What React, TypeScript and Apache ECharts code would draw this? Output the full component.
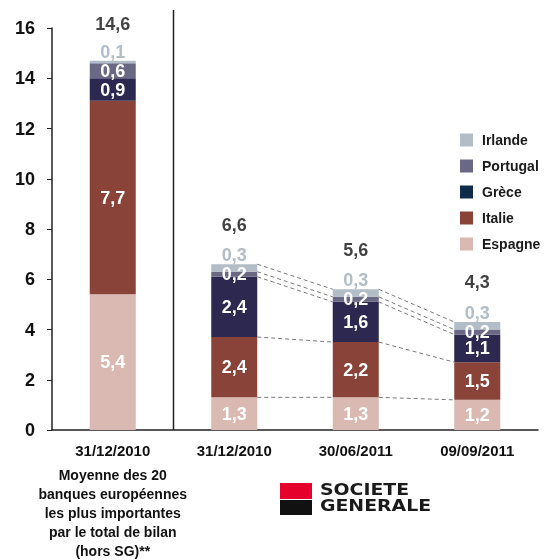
import React, { useEffect, useRef } from "react";
import * as echarts from "echarts";

const categories = ["31/12/2010", "31/12/2010", "30/06/2011", "09/09/2011"];
const espagne = [5.4, 1.3, 1.3, 1.2];
const italie = [7.7, 2.4, 2.2, 1.5];
const grece = [0.9, 2.4, 1.6, 1.1];
const portugal = [0.6, 0.2, 0.2, 0.2];
const irlande = [0.1, 0.3, 0.3, 0.3];
const totals = [14.6, 6.6, 5.6, 4.3];
const legendOrder = ["Irlande", "Portugal", "Grèce", "Italie", "Espagne"];
const noteLines = [
  "Moyenne des 20",
  "banques européennes",
  "les plus importantes",
  "par le total de bilan",
  "(hors SG)**",
];

const FONT = "'Liberation Sans', Arial, sans-serif";
const fmt = (v: number) => String(v).replace(".", ",");

export default function App() {
  const ref = useRef<HTMLDivElement>(null);
  useEffect(() => {
    const chart = echarts.init(ref.current!, null, { renderer: "svg" });
    const stacks = [espagne, italie, grece, portugal, irlande];
    const connectors: number[][] = [];
    for (let i = 1; i < categories.length - 1; i++) {
      let c1 = 0;
      let c2 = 0;
      for (const s of stacks) {
        c1 += s[i];
        c2 += s[i + 1];
        connectors.push([i, +c1.toFixed(2), i + 1, +c2.toFixed(2)]);
      }
    }
    const BW = 46;
    const inLabel = {
      show: true,
      position: "inside",
      color: "#fff",
      fontWeight: "bold",
      fontSize: 18,
      fontFamily: FONT,
      formatter: (p: any) => fmt(p.value),
    };
    const mkBar = (name: string, data: number[], color: string, label: any) => ({
      name,
      type: "bar",
      stack: "t",
      barWidth: BW,
      data,
      itemStyle: { color },
      label,
    });
    chart.setOption({
      animation: false,
      textStyle: { fontFamily: FONT },
      grid: { left: 52, right: 8, top: 28, bottom: 130 },
      legend: {
        orient: "vertical",
        left: 455,
        top: 128,
        itemWidth: 13,
        itemHeight: 13,
        itemGap: 12,
        icon: "rect",
        textStyle: { fontSize: 14, fontWeight: "bold", color: "#1a1a1a", fontFamily: FONT, padding: [0, 0, 0, 4] },
        data: legendOrder.map((n) => (n === "Grèce" ? { name: n, itemStyle: { color: "#0f2c4b" } } : { name: n })),
      },
      xAxis: {
        type: "category",
        data: categories,
        axisLine: { lineStyle: { color: "#222", width: 1.5 } },
        axisTick: { show: false },
        axisLabel: {
          interval: 0,
          margin: 5,
          formatter: (v: string, i: number) =>
            i === 0 ? `{d|${v}}\n` + noteLines.map((l) => `{n|${l}}`).join("\n") : `{d|${v}}`,
          rich: {
            d: { fontSize: 15, fontWeight: "bold", color: "#111", lineHeight: 30, fontFamily: FONT },
            n: { fontSize: 14, fontWeight: "bold", color: "#111", lineHeight: 19, fontFamily: FONT },
          },
        },
      },
      yAxis: {
        type: "value",
        min: 0,
        max: 16,
        interval: 2,
        splitLine: { show: false },
        axisLine: { show: true, lineStyle: { color: "#222", width: 1.5 } },
        axisTick: { show: true, length: 5, lineStyle: { color: "#222" } },
        axisLabel: { fontSize: 18, fontWeight: "bold", color: "#111", margin: 17, fontFamily: FONT },
      },
      series: [
        mkBar("Espagne", espagne, "#d9b9b1", inLabel),
        mkBar("Italie", italie, "#8a4338", inLabel),
        mkBar("Grèce", grece, "#2c2850", inLabel),
        mkBar("Portugal", portugal, "#6b6886", inLabel),
        mkBar("Irlande", irlande, "#b2bdc7", {
          show: true,
          position: "top",
          distance: 0,
          color: "#b2bdc7",
          fontWeight: "bold",
          fontSize: 18,
          fontFamily: FONT,
          formatter: (p: any) => fmt(p.value),
        }),
        {
          name: "Total",
          type: "scatter",
          data: totals,
          symbolSize: 1,
          itemStyle: { color: "transparent" },
          silent: true,
          label: {
            show: true,
            position: "top",
            distance: 30,
            color: "#111",
            fontWeight: "bold",
            fontSize: 18,
            fontFamily: FONT,
            formatter: (p: any) => fmt(p.value),
          },
          z: 5,
        },
        {
          name: "connectors",
          type: "custom",
          silent: true,
          data: connectors,
          encode: { x: [0, 2], y: [1, 3] },
          renderItem: (params: any, api: any) => {
            const p1 = api.coord([api.value(0), api.value(1)]);
            const p2 = api.coord([api.value(2), api.value(3)]);
            return {
              type: "line",
              shape: { x1: p1[0] + BW / 2, y1: p1[1], x2: p2[0] - BW / 2, y2: p2[1] },
              style: { stroke: "#7a7a7a", lineWidth: 1, lineDash: [4, 3] },
            };
          },
          z: 3,
        },
        {
          name: "separator",
          type: "custom",
          silent: true,
          data: [[0, 1]],
          renderItem: (params: any, api: any) => {
            const a = api.coord([0, 0]);
            const b = api.coord([1, 0]);
            const x = (a[0] + b[0]) / 2;
            const cs = params.coordSys;
            return {
              type: "line",
              shape: { x1: x, y1: cs.y - 18, x2: x, y2: cs.y + cs.height },
              style: { stroke: "#222", lineWidth: 1.5 },
            };
          },
        },
      ],
      graphic: [
        { type: "rect", left: 280, top: 483, shape: { width: 32, height: 16 }, style: { fill: "#e4002b" } },
        { type: "rect", left: 280, top: 500, shape: { width: 32, height: 15 }, style: { fill: "#111" } },
        {
          type: "text",
          x: 320,
          y: 482,
          scaleX: 1.18,
          style: { text: "SOCIETE", fontSize: 16, fontFamily: "'DejaVu Sans', sans-serif", fill: "#1a1a1a", fontWeight: "bold" },
        },
        {
          type: "text",
          x: 320,
          y: 498,
          scaleX: 1.18,
          style: { text: "GENERALE", fontSize: 16, fontFamily: "'DejaVu Sans', sans-serif", fill: "#1a1a1a", fontWeight: "bold" },
        },
      ],
    });
    return () => chart.dispose();
  }, []);
  return <div ref={ref} style={{ position: "fixed", left: 0, top: 0, width: 546, height: 560 }} />;
}
